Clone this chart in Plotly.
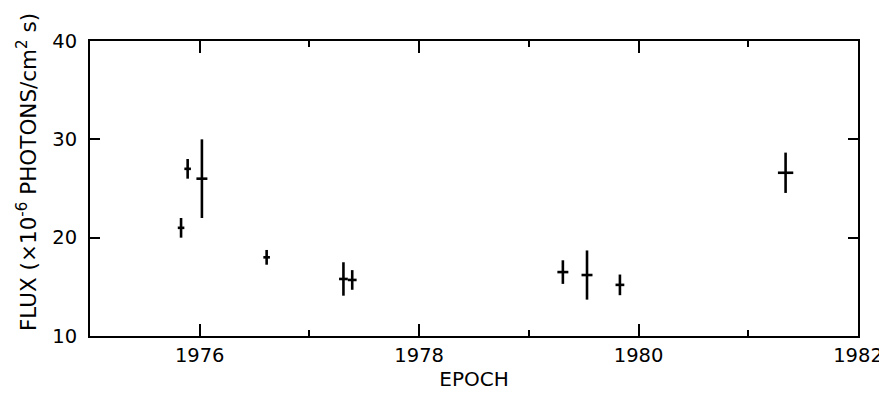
import plotly.graph_objects as go

epoch = [1975.83, 1975.89, 1976.02, 1976.61, 1977.31, 1977.39, 1979.31, 1979.53, 1979.83, 1981.34]
flux = [21.0, 27.0, 26.0, 18.0, 15.8, 15.7, 16.5, 16.2, 15.2, 26.6]
flux_err = [1.0, 1.0, 4.0, 0.75, 1.7, 1.0, 1.2, 2.5, 1.05, 2.05]
epoch_err = [0.03, 0.03, 0.05, 0.03, 0.04, 0.04, 0.05, 0.05, 0.04, 0.07]

x_ticks = [1976, 1978, 1980, 1982]
y_ticks = [10, 20, 30, 40]

FONT = "DejaVu Sans"

fig = go.Figure()
fig.add_trace(go.Scatter(
    x=epoch, y=flux, mode="markers",
    marker=dict(size=1, color="black", opacity=0),
    error_y=dict(type="data", array=flux_err, visible=True, color="black", thickness=2.6, width=0),
    error_x=dict(type="data", array=epoch_err, visible=True, color="black", thickness=2.6, width=0),
    showlegend=False,
))

axis_common = dict(
    showline=True, linecolor="black", linewidth=2, mirror="ticks",
    ticks="inside", tickcolor="black", tickwidth=2,
    showgrid=False, zeroline=False, automargin=False,
    ticklabeloverflow="allow",
    tickfont=dict(family=FONT, size=19.5, color="black"),
)

fig.update_xaxes(
    range=[1975, 1982], tickvals=x_ticks, ticktext=[str(v) for v in x_ticks],
    ticklen=12, ticklabelstandoff=1,
    minor=dict(tickvals=[1977, 1979, 1981], ticks="inside", ticklen=6, tickcolor="black", tickwidth=2, showgrid=False),
    title=dict(text="EPOCH", font=dict(family=FONT, size=20, color="black"), standoff=4),
    **axis_common,
)
fig.update_yaxes(
    range=[10, 40], tickvals=y_ticks, ticktext=[str(v) for v in y_ticks],
    ticklen=10, ticklabelstandoff=7,
    **axis_common,
)

fig.add_annotation(
    text="FLUX (×10<sup>-6</sup> PHOTONS/cm<sup>2</sup> s)",
    xref="paper", yref="paper", x=-0.082, y=0.556,
    xanchor="center", yanchor="middle", textangle=-90, showarrow=False,
    font=dict(family=FONT, size=21.5, color="black"),
)

fig.update_layout(
    width=879, height=390,
    margin=dict(l=82, r=29, t=33, b=62),
    paper_bgcolor="white", plot_bgcolor="white",
)

fig.write_html("out.html")
